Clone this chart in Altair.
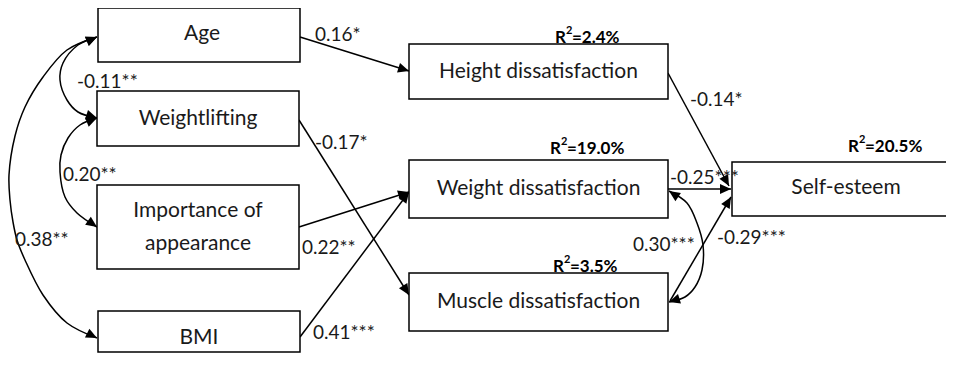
import math
import altair as alt
import pandas as pd

# ---------------- data ----------------
node_keys = ["Age", "Weightlifting", "Importance", "BMI",
             "Height", "Weight", "Muscle", "SelfEsteem"]
node_labels = ["Age", "Weightlifting", "Importance of\nappearance", "BMI",
               "Height dissatisfaction", "Weight dissatisfaction",
               "Muscle dissatisfaction", "Self-esteem"]

path_from = ["Age", "Weightlifting", "Importance", "BMI", "Height", "Weight", "Muscle"]
path_to = ["Height", "Muscle", "Weight", "Weight", "SelfEsteem", "SelfEsteem", "SelfEsteem"]
path_coef = ["0.16*", "-0.17*", "0.22**", "0.41***", "-0.14*", "-0.25***", "-0.29***"]

cov_a = ["Age", "Weightlifting", "Age", "Weight"]
cov_b = ["Weightlifting", "Importance", "BMI", "Muscle"]
cov_coef = ["-0.11**", "0.20**", "0.38**", "0.30***"]

r2_nodes = ["Height", "Weight", "Muscle", "SelfEsteem"]
r2_values = ["2.4%", "19.0%", "3.5%", "20.5%"]

# ---------------- layout (page pixel coordinates) ----------------
PAGE_X = (8, 946)   # drawable area of the page (8px body margin)
PAGE_Y = (8, 353)
box_pos = {
    "Age": (98, 300, 8, 62),
    "Weightlifting": (97, 299, 91, 146),
    "Importance": (97, 299, 185, 269),
    "BMI": (98, 300, 311, 365),
    "Height": (409, 668, 44, 99),
    "Weight": (409, 668, 160, 218),
    "Muscle": (409, 668, 273, 331),
    "SelfEsteem": (732, 962, 162, 216),
}
label_center = {"SelfEsteem": (846, 188), "Age": (202, 34)}
path_pos = [((300, 37), (409, 71)), ((299, 120), (409, 295)),
            ((299, 227), (409, 192)), ((300, 337), (409, 192)),
            ((668, 73), (729, 186)), ((668, 189), (731, 189)),
            ((670, 301), (731, 197))]
path_label_pos = [(315, 35), (315, 143), (302, 248), (313, 333),
                  (690, 100), (670, 178), (717, 238)]
cov_pos = [
    [(97, 37), (78, 45), (63, 63), (60, 80), (67, 100), (78, 112), (97, 118)],
    [(97, 118), (80, 125), (68, 138), (61, 155), (60, 172), (65, 197), (77, 213), (97, 227)],
    [(97, 37), (67, 50), (43, 77), (25, 107), (15, 136), (9, 175), (10, 200),
     (13, 222), (17, 240), (25, 260), (43, 295), (67, 323), (97, 338)],
    [(669, 191), (687, 203), (697, 223), (703, 245), (702, 270), (695, 287),
     (685, 297), (669, 302)],
]
cov_label_pos = [(77, 82), (63, 175), (15, 240), (633, 245)]
r2_pos = [(555, 43), (550, 154), (553, 272), (848, 152)]

FONT = "Lato"
BOX_FS = 21
LINE_H = 33
XS = alt.Scale(domain=list(PAGE_X), nice=False, zero=False)
YS = alt.Scale(domain=list(PAGE_Y), nice=False, zero=False, reverse=True)


def X(f="x"):
    return alt.X(f"{f}:Q", scale=XS, axis=None)


def Y(f="y"):
    return alt.Y(f"{f}:Q", scale=YS, axis=None)


# boxes
rows = []
for k, l in zip(node_keys, node_labels):
    x0, x1, y0, y1 = box_pos[k]
    cx, cy = label_center.get(k, ((x0 + x1) / 2, (y0 + y1) / 2))
    n = l.count("\n") + 1
    rows.append(dict(key=k, label=l, x0=x0, x1=x1, y0=y0,
                     y1=min(y1, PAGE_Y[1] - 1),
                     cx=cx, cy=cy - (n - 1) * LINE_H / 2))
boxes = pd.DataFrame(rows)

# straight paths
segs, heads = [], []
for (p0, p1), c in zip(path_pos, path_coef):
    segs.append(dict(x=p0[0], y=p0[1], x2=p1[0], y2=p1[1]))
    ang = math.degrees(math.atan2(p1[0] - p0[0], -(p1[1] - p0[1]))) % 360
    heads.append(dict(x=p1[0], y=p1[1], angle=ang))

# curved covariances
curve_rows = []
for ci, pts in enumerate(cov_pos):
    for i, (px, py) in enumerate(pts):
        curve_rows.append(dict(cid=ci, i=i, x=px, y=py))
    for tip, nxt in ((pts[0], pts[1]), (pts[-1], pts[-2])):
        ang = math.degrees(math.atan2(tip[0] - nxt[0], -(tip[1] - nxt[1]))) % 360
        heads.append(dict(x=tip[0], y=tip[1], angle=ang))

segs = pd.DataFrame(segs)
heads = pd.DataFrame(heads)
curves = pd.DataFrame(curve_rows)

coef_df = pd.DataFrame(
    [dict(t=t, x=p[0], y=p[1]) for t, p in zip(path_coef, path_label_pos)] +
    [dict(t=t, x=p[0], y=p[1]) for t, p in zip(cov_coef, cov_label_pos)]
)

r2_df = pd.DataFrame([dict(v="=" + v, x=p[0], y=p[1]) for v, p in zip(r2_values, r2_pos)])

line_col = "#000000"
text_col = "#1a1a1a"

rects = alt.Chart(boxes).mark_rect(fill="white", stroke=line_col, strokeWidth=1.5,
                                   clip=True).encode(
    x=X("x0"), x2="x1", y=Y("y0"), y2="y1")

box_text = alt.Chart(boxes).mark_text(font=FONT, fontSize=BOX_FS, color=text_col,
                                      lineBreak="\n", lineHeight=LINE_H,
                                      baseline="middle", clip=True).encode(
    x=X("cx"), y=Y("cy"), text="label:N")

rules = alt.Chart(segs).mark_rule(color=line_col, strokeWidth=1.5, clip=True).encode(
    x=X("x"), y=Y("y"), x2="x2", y2="y2")

lines = alt.Chart(curves).mark_line(color=line_col, strokeWidth=1.5,
                                    interpolate="catmull-rom", clip=True).encode(
    x=X("x"), y=Y("y"), detail="cid:N", order="i:Q")

ARROW = "M0,0 L0.45,1 L-0.45,1 Z"
arrowheads = alt.Chart(heads).mark_point(shape=ARROW, filled=True, opacity=1,
                                         color=line_col, size=484, clip=True).encode(
    x=X("x"), y=Y("y"), angle=alt.Angle("angle:Q", scale=None))

coef_text = alt.Chart(coef_df).mark_text(font=FONT, fontSize=19, align="left",
                                         baseline="middle", color=text_col,
                                         clip=True).encode(
    x=X("x"), y=Y("y"), text="t:N")

r_text = alt.Chart(r2_df).mark_text(font=FONT, fontSize=17, fontWeight="bold",
                                    align="left", baseline="alphabetic",
                                    text="R", color="#000000").encode(
    x=X("x"), y=Y("y"))
sup_text = alt.Chart(r2_df).mark_text(font=FONT, fontSize=11, fontWeight="bold",
                                      align="left", baseline="alphabetic", dx=11, dy=-9,
                                      text="2", color="#000000").encode(
    x=X("x"), y=Y("y"))
v_text = alt.Chart(r2_df).mark_text(font=FONT, fontSize=17, fontWeight="bold",
                                    align="left", baseline="alphabetic", dx=17,
                                    color="#000000").encode(
    x=X("x"), y=Y("y"), text="v:N")

chart = alt.layer(rules, lines, rects, box_text, arrowheads, coef_text,
                  r_text, sup_text, v_text).properties(
    width=PAGE_X[1] - PAGE_X[0], height=PAGE_Y[1] - PAGE_Y[0],
    padding=0, background="white"
).configure_view(stroke=None)

chart.save("out.html", embed_options={"renderer": "svg", "actions": False})
